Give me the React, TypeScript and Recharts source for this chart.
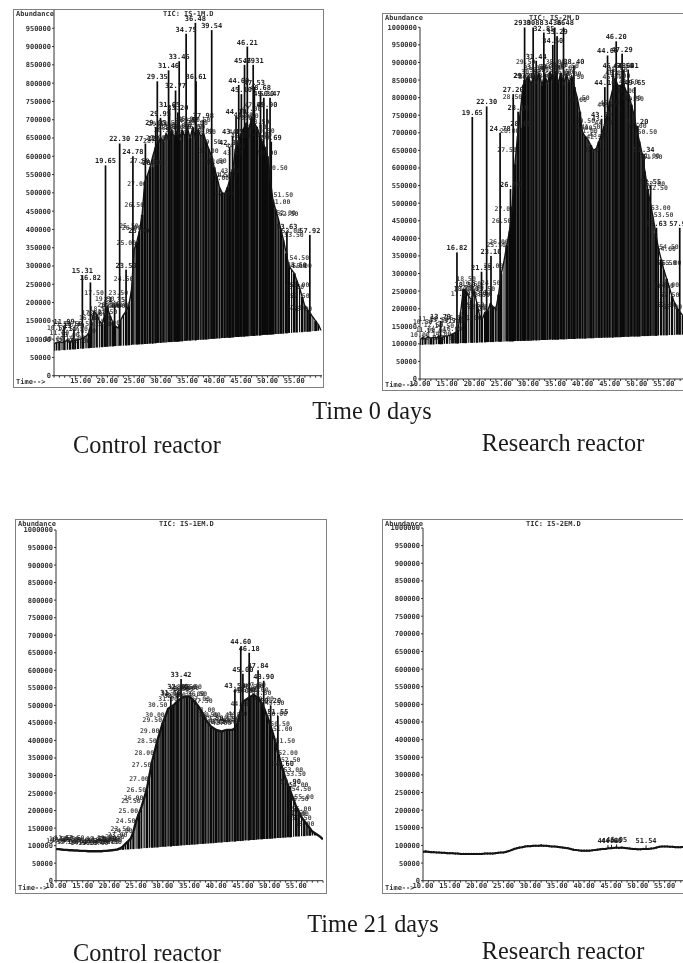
import React from "react";
import { Area, Bar, ComposedChart, LabelList, Line, XAxis, YAxis } from "recharts";

const scanTimes = [
  10, 10.5, 11, 11.5, 12, 12.5, 13, 13.5, 14, 14.5,
  15, 15.5, 16, 16.5, 17, 17.5, 18, 18.5, 19, 19.5,
  20, 20.5, 21, 21.5, 22, 22.5, 23, 23.5, 24, 24.5,
  25, 25.5, 26, 26.5, 27, 27.5, 28, 28.5, 29, 29.5,
  30, 30.5, 31, 31.5, 32, 32.5, 33, 33.5, 34, 34.5,
  35, 35.5, 36, 36.5, 37, 37.5, 38, 38.5, 39, 39.5,
  40, 40.5, 41, 41.5, 42, 42.5, 43, 43.5, 44, 44.5,
  45, 45.5, 46, 46.5, 47, 47.5, 48, 48.5, 49, 49.5,
  50, 50.5, 51, 51.5, 52, 52.5, 53, 53.5, 54, 54.5,
  55, 55.5, 56, 56.5, 57, 57.5, 58, 58.5, 59, 59.5,
  60,
];

// All abundances below are in thousands.
const base0C = [
  68, 69, 69, 70, 70, 71, 71, 72, 72, 73,
  74, 74, 75, 75, 76, 76, 77, 77, 78, 79,
  79, 80, 80, 81, 81, 82, 82, 83, 83, 84,
  85, 85, 86, 86, 87, 87, 88, 88, 89, 90,
  90, 91, 91, 92, 92, 93, 93, 94, 94, 95,
  96, 96, 97, 97, 98, 98, 99, 99, 100, 101,
  101, 102, 102, 103, 103, 104, 104, 105, 106, 106,
  107, 107, 108, 108, 109, 109, 110, 110, 111, 112,
  112, 113, 113, 114, 114, 115, 115, 116, 117, 117,
  118, 118, 119, 119, 120, 120, 121, 122, 122, 123,
  124,
];
const body0C = [
  88, 90, 93, 91, 94, 96, 93, 97, 96, 99,
  100, 104, 108, 116, 146, 176, 168, 150, 140, 166,
  186, 164, 146, 136, 130, 152, 166, 176, 192, 232,
  345, 365, 395, 440, 530, 548, 570, 600, 625, 640,
  650, 640, 662, 648, 670, 652, 668, 645, 672, 655,
  676, 650, 680, 648, 672, 655, 662, 640, 620, 600,
  570, 545, 515, 500, 498, 515, 540, 565, 620, 640,
  660, 675, 690, 670, 705, 690, 680, 660, 640, 625,
  600, 540, 480, 455, 430, 400, 370, 335, 300, 290,
  280, 260, 240, 215, 190, 180, 170, 160, 150, 140,
  125,
];
const spikeTimes0C = [11.89, 13.73, 15.31, 16.82, 19.65, 21.35, 22.3, 23.5, 24.78, 25.9, 27.12, 28.5, 29.05, 29.35, 29.95, 31.46, 31.65, 32.77, 33.2, 33.45, 34.75, 36.48, 36.61, 37.98, 39.54, 42.9, 43.45, 44.1, 44.6, 45.1, 45.69, 46.21, 47.31, 47.53, 48.68, 49.3, 49.9, 50.47, 50.69, 53.63, 57.92];
const spikeTops0C = [135, 125, 275, 255, 575, 195, 635, 290, 600, 385, 635, 570, 680, 805, 705, 835, 730, 780, 720, 860, 935, 965, 805, 700, 945, 625, 655, 710, 795, 770, 850, 900, 850, 790, 775, 760, 730, 760, 640, 395, 385];
const spikeLabels0C = ["11.89", "13.73", "15.31", "16.82", "19.65", "21.35", "22.30", "23.50", "24.78", "25.90", "27.12", "28.50", "29.05", "29.35", "29.95", "31.46", "31.65", "32.77", "33.20", "33.45", "34.75", "36.48", "36.61", "37.98", "39.54", "42.90", "43.45", "44.10", "44.60", "45.10", "45.69", "46.21", "47.31", "47.53", "48.68", "49.30", "49.90", "50.47", "50.69", "53.63", "57.92"];

const base0R = [
  97, 97, 98, 98, 98, 98, 99, 99, 99, 100,
  100, 100, 101, 101, 101, 102, 102, 102, 103, 103,
  103, 103, 104, 104, 104, 105, 105, 105, 106, 106,
  106, 106, 107, 107, 107, 108, 108, 108, 109, 109,
  109, 109, 110, 110, 110, 111, 111, 111, 112, 112,
  112, 112, 113, 113, 113, 114, 114, 114, 115, 115,
  115, 115, 116, 116, 116, 117, 117, 117, 118, 118,
  118, 118, 119, 119, 119, 120, 120, 120, 121, 121,
  121, 121, 122, 122, 122, 123, 123, 123, 124, 124,
  124, 124, 125, 125, 125, 126, 126, 126, 126, 126,
  126,
];
const body0R = [
  112, 118, 115, 120, 116, 119, 117, 121, 118, 122,
  122, 125, 128, 132, 140, 190, 255, 250, 235, 225,
  250, 215, 180, 170, 190, 195, 215, 205, 200, 240,
  300, 335, 380, 420, 490, 610, 690, 760, 835, 850,
  860, 838, 865, 842, 870, 835, 868, 840, 872, 845,
  875, 842, 870, 838, 865, 845, 860, 830, 800, 760,
  700, 690, 680, 665, 650, 655, 675, 695, 720, 750,
  790, 820, 855, 835, 835, 840, 820, 810, 780, 750,
  710, 675, 640, 590, 540, 500, 460, 415, 370, 340,
  310, 285, 260, 235, 215, 200, 190, 180, 170, 150,
  130,
];
const spikeTimes0R = [13.79, 16.82, 18.3, 19.65, 21.35, 22.3, 23.1, 24.78, 26.7, 27.2, 28.1, 28.6, 29.2, 29.3, 30.88, 31.44, 32.85, 34.5, 34.86, 35.29, 36.48, 38.4, 43.5, 44.1, 44.6, 45.6, 46.2, 47.29, 47.6, 48.41, 49.65, 50.2, 51.34, 52.55, 53.63, 57.92];
const spikeTops0R = [165, 360, 255, 745, 305, 775, 350, 700, 540, 810, 760, 715, 850, 1000, 1000, 905, 985, 950, 1000, 975, 1000, 890, 740, 830, 920, 880, 960, 925, 880, 880, 830, 720, 640, 550, 430, 430];
const spikeLabels0R = ["13.79", "16.82", "18.30", "19.65", "21.35", "22.30", "23.10", "24.78", "26.70", "27.20", "28.10", "28.60", "29.20", "29.30", "30.88", "31.44", "32.85", "34.50", "34.86", "35.29", "36.48", "38.40", "43.50", "44.10", "44.60", "45.60", "46.20", "47.29", "47.60", "48.41", "49.65", "50.20", "51.34", "52.55", "53.63", "57.92"];

const base21C = [
  90, 90, 89, 88, 88, 87, 87, 86, 86, 85,
  85, 85, 84, 84, 84, 84, 84, 84, 85, 85,
  86, 87, 88, 89, 88, 88, 89, 89, 90, 90,
  91, 91, 92, 93, 93, 94, 94, 95, 95, 96,
  97, 97, 98, 98, 99, 99, 100, 101, 101, 102,
  102, 103, 103, 104, 105, 105, 106, 106, 107, 107,
  108, 109, 109, 110, 110, 111, 112, 112, 113, 113,
  114, 115, 115, 116, 116, 117, 118, 118, 119, 119,
  120, 120, 121, 122, 122, 123, 123, 124, 124, 125,
  126, 126, 127, 127, 128, 128, 129, 129, 130, 125,
  118,
];
const body21C = [
  90, 90, 89, 88, 88, 87, 87, 86, 86, 85,
  85, 85, 84, 84, 84, 84, 84, 84, 85, 85,
  86, 87, 88, 89, 92, 97, 105, 112, 120, 140,
  170, 190, 210, 235, 260, 300, 340, 370, 400, 425,
  450, 470, 490, 495, 500, 508, 515, 520, 525, 525,
  525, 518, 510, 500, 490, 475, 460, 450, 440, 435,
  430, 428, 425, 428, 430, 430, 430, 435, 450, 480,
  510, 515, 520, 525, 530, 525, 520, 505, 490, 470,
  450, 425, 400, 370, 340, 315, 290, 270, 250, 230,
  210, 195, 180, 170, 160, 150, 140, 135, 130, 125,
  118,
];
const spikeTimes21C = [31.5, 32.8, 33.42, 43.5, 44.6, 45, 46.18, 47.84, 48.9, 50.2, 51.55, 52.6, 53.9];
const spikeTops21C = [525, 540, 575, 545, 668, 590, 650, 600, 570, 500, 470, 320, 270];
const spikeLabels21C = ["31.50", "32.80", "33.42", "43.50", "44.60", "45.00", "46.18", "47.84", "48.90", "50.20", "51.55", "52.60", "53.90"];

const body21R = [
  82, 83, 82, 81, 81, 80, 80, 79, 79, 78,
  78, 78, 77, 77, 76, 76, 76, 76, 76, 76,
  76, 76, 76, 77, 77, 77, 77, 78, 79, 80,
  80, 82, 84, 87, 90, 92, 94, 95, 97, 98,
  98, 99, 99, 99, 100, 99, 99, 98, 97, 97,
  96, 95, 94, 93, 92, 90, 88, 87, 86, 85,
  85, 85, 85, 86, 87, 88, 89, 90, 90, 92,
  92, 93, 94, 93, 94, 93, 92, 91, 90, 90,
  89, 89, 90, 90, 90, 91, 92, 94, 96, 97,
  97, 97, 96, 96, 95, 95, 95, 96, 96, 96,
  96,
];
const spikeTimes21R = [44.44, 45.1, 46.05, 51.54];
const spikeTops21R = [101, 102, 103, 100];
const spikeLabels21R = ["44.44", "44.60", "46.05", "51.54"];

const yTicksFull = [0, 50000, 100000, 150000, 200000, 250000, 300000, 350000, 400000, 450000, 500000, 550000, 600000, 650000, 700000, 750000, 800000, 850000, 900000, 950000, 1000000];
const yTicksCut = [0, 50000, 100000, 150000, 200000, 250000, 300000, 350000, 400000, 450000, 500000, 550000, 600000, 650000, 700000, 750000, 800000, 850000, 900000, 950000];
const xTicks = [10, 11, 12, 13, 14, 15, 16, 17, 18, 19, 20, 21, 22, 23, 24, 25, 26, 27, 28, 29, 30, 31, 32, 33, 34, 35, 36, 37, 38, 39, 40, 41, 42, 43, 44, 45, 46, 47, 48, 49, 50, 51, 52, 53, 54, 55, 56, 57, 58, 59, 60];

const MONO = "'DejaVu Sans Mono', monospace";
const TICK = { fontFamily: MONO, fontSize: 7, fontWeight: 700, fill: "#333" };

function buildBody(base: number[], body: number[], fillFrom: number, fillTo: number) {
  return scanTimes.map((t, i) => ({
    t,
    line: body[i] * 1000,
    fill: t >= fillFrom && t <= fillTo ? [base[i] * 1000, body[i] * 1000] : null,
  }));
}

function buildMarks(base: number[], body: number[], times: number[], tops: number[], labels: string[]) {
  const grid = scanTimes.map((t, i) => ({ t, span: [base[i] * 1000, body[i] * 1000], tag: "" }));
  const spikes = times.map((t, i) => {
    const near = Math.min(Math.round((t - 10) * 2), scanTimes.length - 1);
    return { t, span: [base[near] * 1000, tops[i] * 1000], tag: labels[i] };
  });
  return [...grid, ...spikes].sort((a, b) => a.t - b.t);
}

const stripeWidths = [2.6, 1.5, 2.3, 1.1, 2.8, 1.9, 1.3, 2.5, 1.7];

const makeBarShape = (fill: string, fixed?: number) => (s: any) => {
  const w = fixed ?? (s.tag ? 1.7 : stripeWidths[s.index % stripeWidths.length]);
  if (!s.height || s.height <= 0) return <g />;
  return <rect x={s.x + s.width / 2 - w / 2} y={s.y} width={w} height={s.height} fill={fill} />;
};

const spikeLabel = (p: any) => {
  if (!p.value) return null;
  return (
    <text x={p.x + p.width / 2} y={p.y - 2} textAnchor="middle" fontFamily={MONO} fontSize={7} fontWeight={700} fill="#222">
      {p.value}
    </text>
  );
};

const wideOffsets = [-3, -13, -7, -16, 2, -10, -5, -14, -1, -8, 4, -12];
const tightOffsets = [-6, -8, -7, -10, -6, -9, -8, -11, -7, -6, -9, -8];

const makeBandLabel = (offsets: number[], riseEnd: number, fallStart: number) => (p: any) => {
  const t = Number(p.value);
  if (t > 58) return null;
  const anchor = t >= 21 && t < riseEnd ? "end" : t > fallStart && t <= 55 ? "start" : t > 56 ? "end" : "middle";
  const dx = anchor === "end" ? 2 : anchor === "start" ? -2 : 0;
  return (
    <text x={p.x + dx} y={p.y + offsets[p.index % offsets.length]} textAnchor={anchor} fontFamily={MONO} fontSize={6.5} fontWeight={700} fill="#1a1a1a" opacity={0.8}>
      {t.toFixed(2)}
    </text>
  );
};

type PanelProps = {
  left: number; top: number; width: number; height: number;
  axisX: number; zeroY: number; fullY: number; xMax: number; plotRight: number;
  base: number[]; body: number[];
  spikeTimes: number[]; spikeTops: number[]; spikeLabels: string[];
  yTicks: number[]; title: string; titleX: number; showTen: boolean; band: boolean;
  fillFrom: number; fillTo: number; fillColor: string; lineWidth: number;
  offsets: number[]; riseEnd: number; fallStart: number;
};

function Panel(p: PanelProps) {
  const bodyRows = buildBody(p.base, p.body, p.fillFrom, p.fillTo);
  const marks = buildMarks(p.base, p.body, p.spikeTimes, p.spikeTops, p.spikeLabels);
  return (
    <div style={{ position: "absolute", left: p.left, top: p.top, width: p.width, height: p.height, outline: "1px solid #808080", filter: "blur(0.5px)" }}>
      <ComposedChart
        width={p.width}
        height={p.height}
        data={marks}
        margin={{ top: p.fullY - p.top, right: p.left + p.width - p.plotRight, bottom: 0, left: 0 }}
      >
        <XAxis
          type="number"
          dataKey="t"
          domain={[10, p.xMax]}
          ticks={xTicks}
          interval={0}
          allowDataOverflow
          height={p.top + p.height - p.zeroY}
          tickSize={2}
          tickMargin={0}
          stroke="#333"
          tick={TICK}
          tickFormatter={(v: number) => (v % 5 === 0 && (v > 10 || p.showTen) && v < 60 ? v.toFixed(2) : "")}
        />
        <YAxis
          type="number"
          domain={[0, 1000000]}
          ticks={p.yTicks}
          interval={0}
          allowDataOverflow
          width={p.axisX - p.left}
          tickSize={2}
          tickMargin={1}
          stroke="#333"
          tick={TICK}
        />
        {p.band && (
          <Area data={bodyRows} dataKey="fill" type="linear" stroke="none" fill={p.fillColor} fillOpacity={1} dot={false} activeDot={false} isAnimationActive={false} />
        )}
        <Bar dataKey="span" shape={makeBarShape(p.band ? "#0a0a0a" : "#222", p.band ? undefined : 1)} isAnimationActive={false}>
          <LabelList dataKey="tag" content={spikeLabel} />
        </Bar>
        <Line
          data={bodyRows}
          dataKey="line"
          type="linear"
          stroke="#141414"
          strokeWidth={p.lineWidth}
          dot={p.band ? false : { r: 1.1, fill: "#141414", stroke: "none" }}
          activeDot={false}
          isAnimationActive={false}
        >
          {p.band && <LabelList dataKey="t" content={makeBandLabel(p.offsets, p.riseEnd, p.fallStart)} />}
        </Line>
      </ComposedChart>
      <div style={{ position: "absolute", left: 2, top: 0, font: `700 7px ${MONO}`, color: "#333", lineHeight: "8px" }}>Abundance</div>
      <div style={{ position: "absolute", left: p.titleX - p.left, top: 0, font: `700 7px ${MONO}`, color: "#333", lineHeight: "8px", whiteSpace: "nowrap" }}>{p.title}</div>
      <div style={{ position: "absolute", left: 2, bottom: 1, font: `700 7px ${MONO}`, color: "#333", lineHeight: "8px", whiteSpace: "nowrap" }}>Time--&gt;</div>
    </div>
  );
}

const captionStyle = (center: number, y: number): React.CSSProperties => ({
  position: "absolute",
  left: center - 150,
  width: 300,
  top: y,
  textAlign: "center",
  fontFamily: "'Liberation Serif', serif",
  fontSize: 24.3,
  lineHeight: "26px",
  color: "#1a1a1a",
  whiteSpace: "nowrap",
  filter: "blur(0.3px)",
});

export default function App() {
  return (
    <div style={{ position: "absolute", left: 0, top: 0, width: 683, height: 963, overflow: "hidden", background: "#fff" }}>
      <Panel left={14} top={10} width={309} height={377} axisX={54} zeroY={375.7} fullY={10} xMax={60.2} plotRight={322}
        base={base0C} body={body0C} spikeTimes={spikeTimes0C} spikeTops={spikeTops0C} spikeLabels={spikeLabels0C}
        yTicks={yTicksCut} title="TIC: IS-1M.D" titleX={163} showTen={false} band fillFrom={25.5} fillTo={53} fillColor="#6e6e6e" lineWidth={1.4}
        offsets={wideOffsets} riseEnd={28} fallStart={50} />
      <Panel left={383} top={14} width={320} height={376} axisX={420} zeroY={379} fullY={27.3} xMax={60} plotRight={691}
        base={base0R} body={body0R} spikeTimes={spikeTimes0R} spikeTops={spikeTops0R} spikeLabels={spikeLabels0R}
        yTicks={yTicksFull} title="TIC: IS-2M.D" titleX={529} showTen band fillFrom={26} fillTo={54} fillColor="#5c5c5c" lineWidth={1.4}
        offsets={wideOffsets} riseEnd={29} fallStart={50} />
      <Panel left={16} top={520} width={310} height={373} axisX={56} zeroY={880.7} fullY={530} xMax={60} plotRight={323}
        base={base21C} body={body21C} spikeTimes={spikeTimes21C} spikeTops={spikeTops21C} spikeLabels={spikeLabels21C}
        yTicks={yTicksFull} title="TIC: IS-1EM.D" titleX={159} showTen band fillFrom={28} fillTo={54} fillColor="#8a8a8a" lineWidth={2.4}
        offsets={tightOffsets} riseEnd={31} fallStart={49} />
      <Panel left={383} top={520} width={320} height={373} axisX={423} zeroY={880.7} fullY={528} xMax={60} plotRight={691.5}
        base={body21R} body={body21R} spikeTimes={spikeTimes21R} spikeTops={spikeTops21R} spikeLabels={spikeLabels21R}
        yTicks={yTicksFull} title="TIC: IS-2EM.D" titleX={526} showTen band={false} fillFrom={60} fillTo={60} fillColor="#fff" lineWidth={2}
        offsets={tightOffsets} riseEnd={31} fallStart={49} />
      <div style={captionStyle(372, 398)}>Time 0 days</div>
      <div style={captionStyle(147, 432)}>Control reactor</div>
      <div style={captionStyle(563, 430)}>Research reactor</div>
      <div style={captionStyle(373, 911)}>Time 21 days</div>
      <div style={captionStyle(147, 940)}>Control reactor</div>
      <div style={captionStyle(563, 938)}>Research reactor</div>
    </div>
  );
}
